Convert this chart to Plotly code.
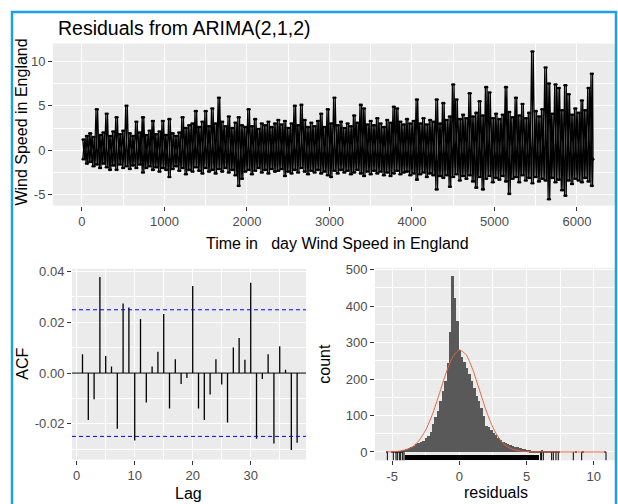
import plotly.graph_objects as go

W, H = 618, 504
FONT = "Liberation Sans, Arial, sans-serif"

# --- residual series (upper / lower swing read per 40-day step) ---
resid_day = [20 + 40 * k for k in range(155)]
resid_hi = [
    1.2, 1.6, 1.9, 1.5, 4.6, 1.7, 2.0, 4.1, 1.6, 2.1,
    3.7, 1.8, 2.2, 5.0, 1.9, 1.6, 3.2, 2.0, 3.7, 1.7,
    2.2, 3.3, 1.8, 2.1, 3.3, 1.7, 3.5, 1.9, 1.6, 2.0,
    3.7, 2.5, 2.8, 3.0, 4.4, 2.6, 3.2, 4.4, 2.7, 4.7,
    3.0, 5.9, 3.2, 2.7, 3.8, 2.5, 3.1, 3.7, 2.8, 2.6,
    4.6, 2.7, 3.5, 2.4, 3.0, 2.8, 3.2, 2.6, 3.0, 3.4,
    2.9, 3.3, 2.5, 3.0, 5.0, 2.8, 5.1, 3.4, 2.6, 3.1,
    2.7, 3.3, 4.1, 2.6, 4.6, 3.0, 5.9, 2.8, 3.2, 2.5,
    3.0, 2.7, 3.9, 3.1, 5.1, 4.7, 2.9, 3.3, 2.8, 3.6,
    3.0, 2.6, 3.4, 3.1, 4.9, 4.7, 3.2, 2.9, 3.5, 3.0,
    3.3, 5.7, 3.0, 3.6, 2.9, 3.4, 3.2, 5.7, 3.0, 5.3,
    3.4, 3.8, 7.4, 5.7, 3.5, 4.0, 3.6, 6.4, 3.8, 4.2,
    5.5, 3.9, 7.1, 6.5, 3.6, 4.1, 3.5, 4.0, 7.1, 4.3,
    3.7, 5.9, 3.9, 5.2, 3.6, 4.2, 11.1, 4.4, 3.8, 4.6,
    9.3, 7.5, 4.1, 7.4, 7.0, 4.5, 7.3, 6.3, 4.0, 4.7,
    4.2, 5.6, 4.5, 7.0, 8.6,
]
resid_lo = [
    -1.0, -1.5, -1.3, -1.8, -1.6, -2.0, -1.5, -1.9, -2.2, -1.7,
    -2.2, -1.6, -2.0, -1.8, -2.1, -1.7, -2.0, -1.6, -2.5, -2.0,
    -1.8, -2.2, -1.9, -2.4, -2.0, -2.2, -3.0, -2.1, -1.8, -2.3,
    -2.0, -2.7, -2.2, -2.4, -1.9, -2.3, -2.6, -2.0, -2.4, -2.2,
    -2.6, -2.1, -2.4, -2.0, -2.5, -2.2, -2.8, -4.0, -3.2, -2.4,
    -2.2, -2.7, -2.3, -2.0, -2.5, -2.2, -2.6, -2.1, -2.4, -2.3,
    -2.1, -2.9, -2.4, -2.6, -2.2, -2.5, -2.0, -2.4, -2.7, -2.3,
    -2.5, -2.2, -2.6, -2.4, -2.8, -3.0, -2.3, -2.6, -2.2, -2.5,
    -2.3, -2.7, -2.5, -2.2, -2.6, -2.9, -2.4, -2.7, -2.3, -2.6,
    -2.4, -2.8, -2.5, -2.9, -2.6, -2.3, -2.7, -2.5, -2.4, -2.8,
    -2.6, -3.3, -2.7, -2.5, -3.0, -2.6, -2.8, -4.4, -2.9, -3.1,
    -2.8, -4.1, -3.0, -2.7, -3.4, -2.9, -3.2, -2.8, -3.5, -4.2,
    -3.0, -4.4, -3.2, -2.9, -3.6, -3.1, -3.3, -2.9, -3.5, -4.9,
    -3.2, -3.0, -3.6, -2.8, -3.4, -3.1, -3.7, -3.0, -3.5, -3.2,
    -3.4, -5.5, -3.1, -3.6, -3.3, -4.5, -5.1, -3.4, -3.8, -3.2,
    -3.4, -3.6, -3.1, -3.5, -4.0,
]
resid_end_day, resid_end = 6195, -1.0

# --- ACF ---
lags = list(range(1, 39))
acf_vals = [0.0074, -0.0185, -0.0103, 0.0378, 0.0067, 0.0026, -0.0219, 0.0274,
            0.0258, -0.0265, 0.0213, -0.0116, 0.0026, 0.0084, 0.0232, -0.0139,
            0.0054, -0.0043, -0.0019, 0.0342, -0.0139, -0.0185, -0.0084, 0.0054,
            -0.0045, -0.0194, 0.0101, 0.0138, 0.0052, 0.0355, -0.0258, -0.0023,
            0.0074, -0.0277, 0.0106, 0.0013, -0.0303, -0.0274]
conf_limit = 0.0249

# --- histogram of residuals ---
bin_width = 0.18
bin_start = -5.36
hist_counts = [
    2, 0, 1, 1, 2, 3, 5, 7, 9, 12,
    14, 18, 21, 24, 27, 31, 38, 45, 56, 78,
    95, 112, 140, 168, 195, 245, 330, 482, 422, 360,
    280, 262, 248, 232, 215, 195, 175, 155, 140, 122,
    98, 72, 68, 60, 52, 48, 38, 32, 27, 24,
    22, 20, 18, 15, 13, 11, 9, 8, 6, 5,
    4, 3, 4, 3, 5, 3, 1, 2, 1, 3,
    2, 1, 0, 0, 0, 0, 0, 0, 1, 0,
    0, 1, 0, 0, 0, 0, 0, 0, 0, 0,
    1,
]
bin_centers = [round(bin_start + bin_width * k, 2) for k in range(len(hist_counts))]

# fitted normal curve
curve_x = [-5.4, -5, -4.5, -4, -3.5, -3, -2.5, -2, -1.5, -1, -0.5, 0, 0.5, 1,
           1.5, 2, 2.5, 3, 3.5, 4, 4.5, 5, 5.5, 6, 7, 8, 9, 10, 10.9]
curve_y = [0.2, 0.6, 2, 6, 14, 31, 60, 103, 158, 215, 260, 280, 267, 226,
           170, 113, 67, 35, 16, 7, 2.5, 0.8, 0.3, 0, 0, 0, 0, 0, 0]

# rug: dense block plus the scattered tail observations
rug_dense = (-4.05, 5.95)
rug_tail = [-5.35, -4.91, -4.71, -4.61, -4.46, -4.36, -4.21, -4.11,
            6.05, 6.12, 6.25, 6.87, 6.99, 7.19, 7.36, 8.48, 9.1, 10.91]


def dx(p):
    return p / W


def dy(p):
    return 1 - p / H


fig = go.Figure()

# the series swings hi/lo inside every step; draw it in both phases so the
# dense core reads as a solid band, as it does with all 6200 points
for phase in (0, 1):
    rx, ry = [], []
    for d, hi, lo in zip(resid_day, resid_hi, resid_lo):
        pair = [hi, lo] if phase == 0 else [lo, hi]
        rx += [d - 10, d + 10]
        ry += pair
    rx.append(resid_end_day)
    ry.append(resid_end)
    fig.add_trace(go.Scatter(x=rx, y=ry, mode="lines+markers",
                             line=dict(color="black", width=1.2, simplify=False),
                             marker=dict(color="black", size=2.6),
                             xaxis="x", yaxis="y", hoverinfo="skip"))

sx, sy = [], []
for l, a in zip(lags, acf_vals):
    sx += [l, l, None]
    sy += [0, a, None]
fig.add_trace(go.Scatter(x=sx, y=sy, mode="lines",
                         line=dict(color="black", width=1.3),
                         xaxis="x2", yaxis="y2", hoverinfo="skip"))

fig.add_trace(go.Bar(x=bin_centers, y=hist_counts, width=bin_width,
                     marker=dict(color="#595959", line=dict(width=0)),
                     xaxis="x3", yaxis="y3"))
fig.add_trace(go.Bar(x=[(rug_dense[0] + rug_dense[1]) / 2], y=[16], base=[-23],
                     width=[rug_dense[1] - rug_dense[0]],
                     marker=dict(color="black", line=dict(width=0)),
                     xaxis="x3", yaxis="y3"))
fig.add_trace(go.Scatter(x=rug_tail, y=[-15] * len(rug_tail), mode="markers",
                         marker=dict(symbol="line-ns", size=8,
                                     line=dict(width=1, color="black")),
                         xaxis="x3", yaxis="y3", hoverinfo="skip"))
fig.add_trace(go.Scatter(x=curve_x, y=curve_y, mode="lines",
                         line=dict(color="#E8653E", width=1, shape="spline", smoothing=0.6),
                         xaxis="x3", yaxis="y3", hoverinfo="skip"))


def axis(domain, rng, vals, texts, minor_vals, anchor):
    return dict(domain=domain, range=rng, anchor=anchor,
                tickmode="array", tickvals=vals, ticktext=texts,
                ticks="outside", ticklen=4, tickwidth=1, tickcolor="#333333",
                tickfont=dict(family=FONT, size=13, color="#4D4D4D"),
                showgrid=True, gridcolor="white", gridwidth=1.1,
                minor=dict(tickvals=minor_vals, showgrid=True,
                           gridcolor="white", gridwidth=0.5, ticks=""),
                zeroline=False, showline=False, fixedrange=True)


layout = dict(
    width=W, height=H, margin=dict(l=0, r=0, t=0, b=0),
    paper_bgcolor="white", plot_bgcolor="#EBEBEB",
    showlegend=False, barmode="overlay", bargap=0,
    font=dict(family=FONT, color="black"),
)
layout["xaxis"] = axis([dx(53), dx(615)], [-351, 6461],
                       [0, 1000, 2000, 3000, 4000, 5000, 6000],
                       ["0", "1000", "2000", "3000", "4000", "5000", "6000"],
                       [500, 1500, 2500, 3500, 4500, 5500], "y")
layout["yaxis"] = axis([dy(202), dy(38)], [-6.22, 12.0],
                       [-5, 0, 5, 10], ["-5", "0", "5", "10"],
                       [-2.5, 2.5, 7.5], "x")
layout["xaxis2"] = axis([dx(72), dx(306)], [-0.81, 39.53],
                        [0, 10, 20, 30], ["0", "10", "20", "30"],
                        [5, 15, 25, 35], "y2")
layout["yaxis2"] = axis([dy(459), dy(266)], [-0.0340, 0.0410],
                        [-0.02, 0.0, 0.02, 0.04], ["-0.02", "0.00", "0.02", "0.04"],
                        [-0.03, -0.01, 0.01, 0.03], "x2")
layout["xaxis3"] = axis([dx(375), dx(615)], [-6.27, 11.58],
                        [-5, 0, 5, 10], ["-5", "0", "5", "10"],
                        [-2.5, 2.5, 7.5], "y3")
layout["yaxis3"] = axis([dy(459.8), dy(265)], [-23, 505],
                        [0, 100, 200, 300, 400, 500],
                        ["0", "100", "200", "300", "400", "500"],
                        [50, 150, 250, 350, 450], "x3")

shapes = [
    dict(type="line", xref="x2 domain", yref="y2", x0=0, x1=1, y0=0, y1=0,
         line=dict(color="black", width=1)),
    dict(type="line", xref="x2 domain", yref="y2", x0=0, x1=1,
         y0=conf_limit, y1=conf_limit, line=dict(color="blue", width=1, dash="4px,3px")),
    dict(type="line", xref="x2 domain", yref="y2", x0=0, x1=1,
         y0=-conf_limit, y1=-conf_limit, line=dict(color="blue", width=1, dash="4px,3px")),
    # frame around the screenshot
    dict(type="line", xref="paper", yref="paper", x0=dx(12), x1=dx(12), y0=0, y1=dy(5),
         line=dict(color="#1EA0E6", width=2.5)),
    dict(type="line", xref="paper", yref="paper", x0=dx(11), x1=dx(616.5), y0=dy(6), y1=dy(6),
         line=dict(color="#1EA0E6", width=2.5)),
    dict(type="line", xref="paper", yref="paper", x0=dx(616), x1=dx(616), y0=0, y1=dy(5),
         line=dict(color="#1EA0E6", width=2.5)),
]
layout["shapes"] = shapes


def label(text, x, y, size=16, angle=0, xanchor="center"):
    return dict(text=text, x=dx(x), y=dy(y), xref="paper", yref="paper",
                showarrow=False, textangle=angle, xanchor=xanchor, yanchor="middle",
                font=dict(family=FONT, size=size, color="black"))


layout["annotations"] = [
    label("Residuals from ARIMA(2,1,2)", 56, 22, size=19.5, xanchor="left"),
    label("Wind Speed in England", 22, 118, angle=-90),
    label("Time in\u00a0\u00a0\u00a0day Wind Speed in England", 337, 240),
    label("ACF", 23, 362, angle=-90),
    label("Lag", 189, 493),
    label("count", 325, 362, angle=-90),
    label("residuals", 496, 492),
]

fig.update_layout(**layout)
fig.write_html("out.html", config={"displayModeBar": False},
               post_script="document.body.style.margin='0';document.body.style.overflow='hidden';")
